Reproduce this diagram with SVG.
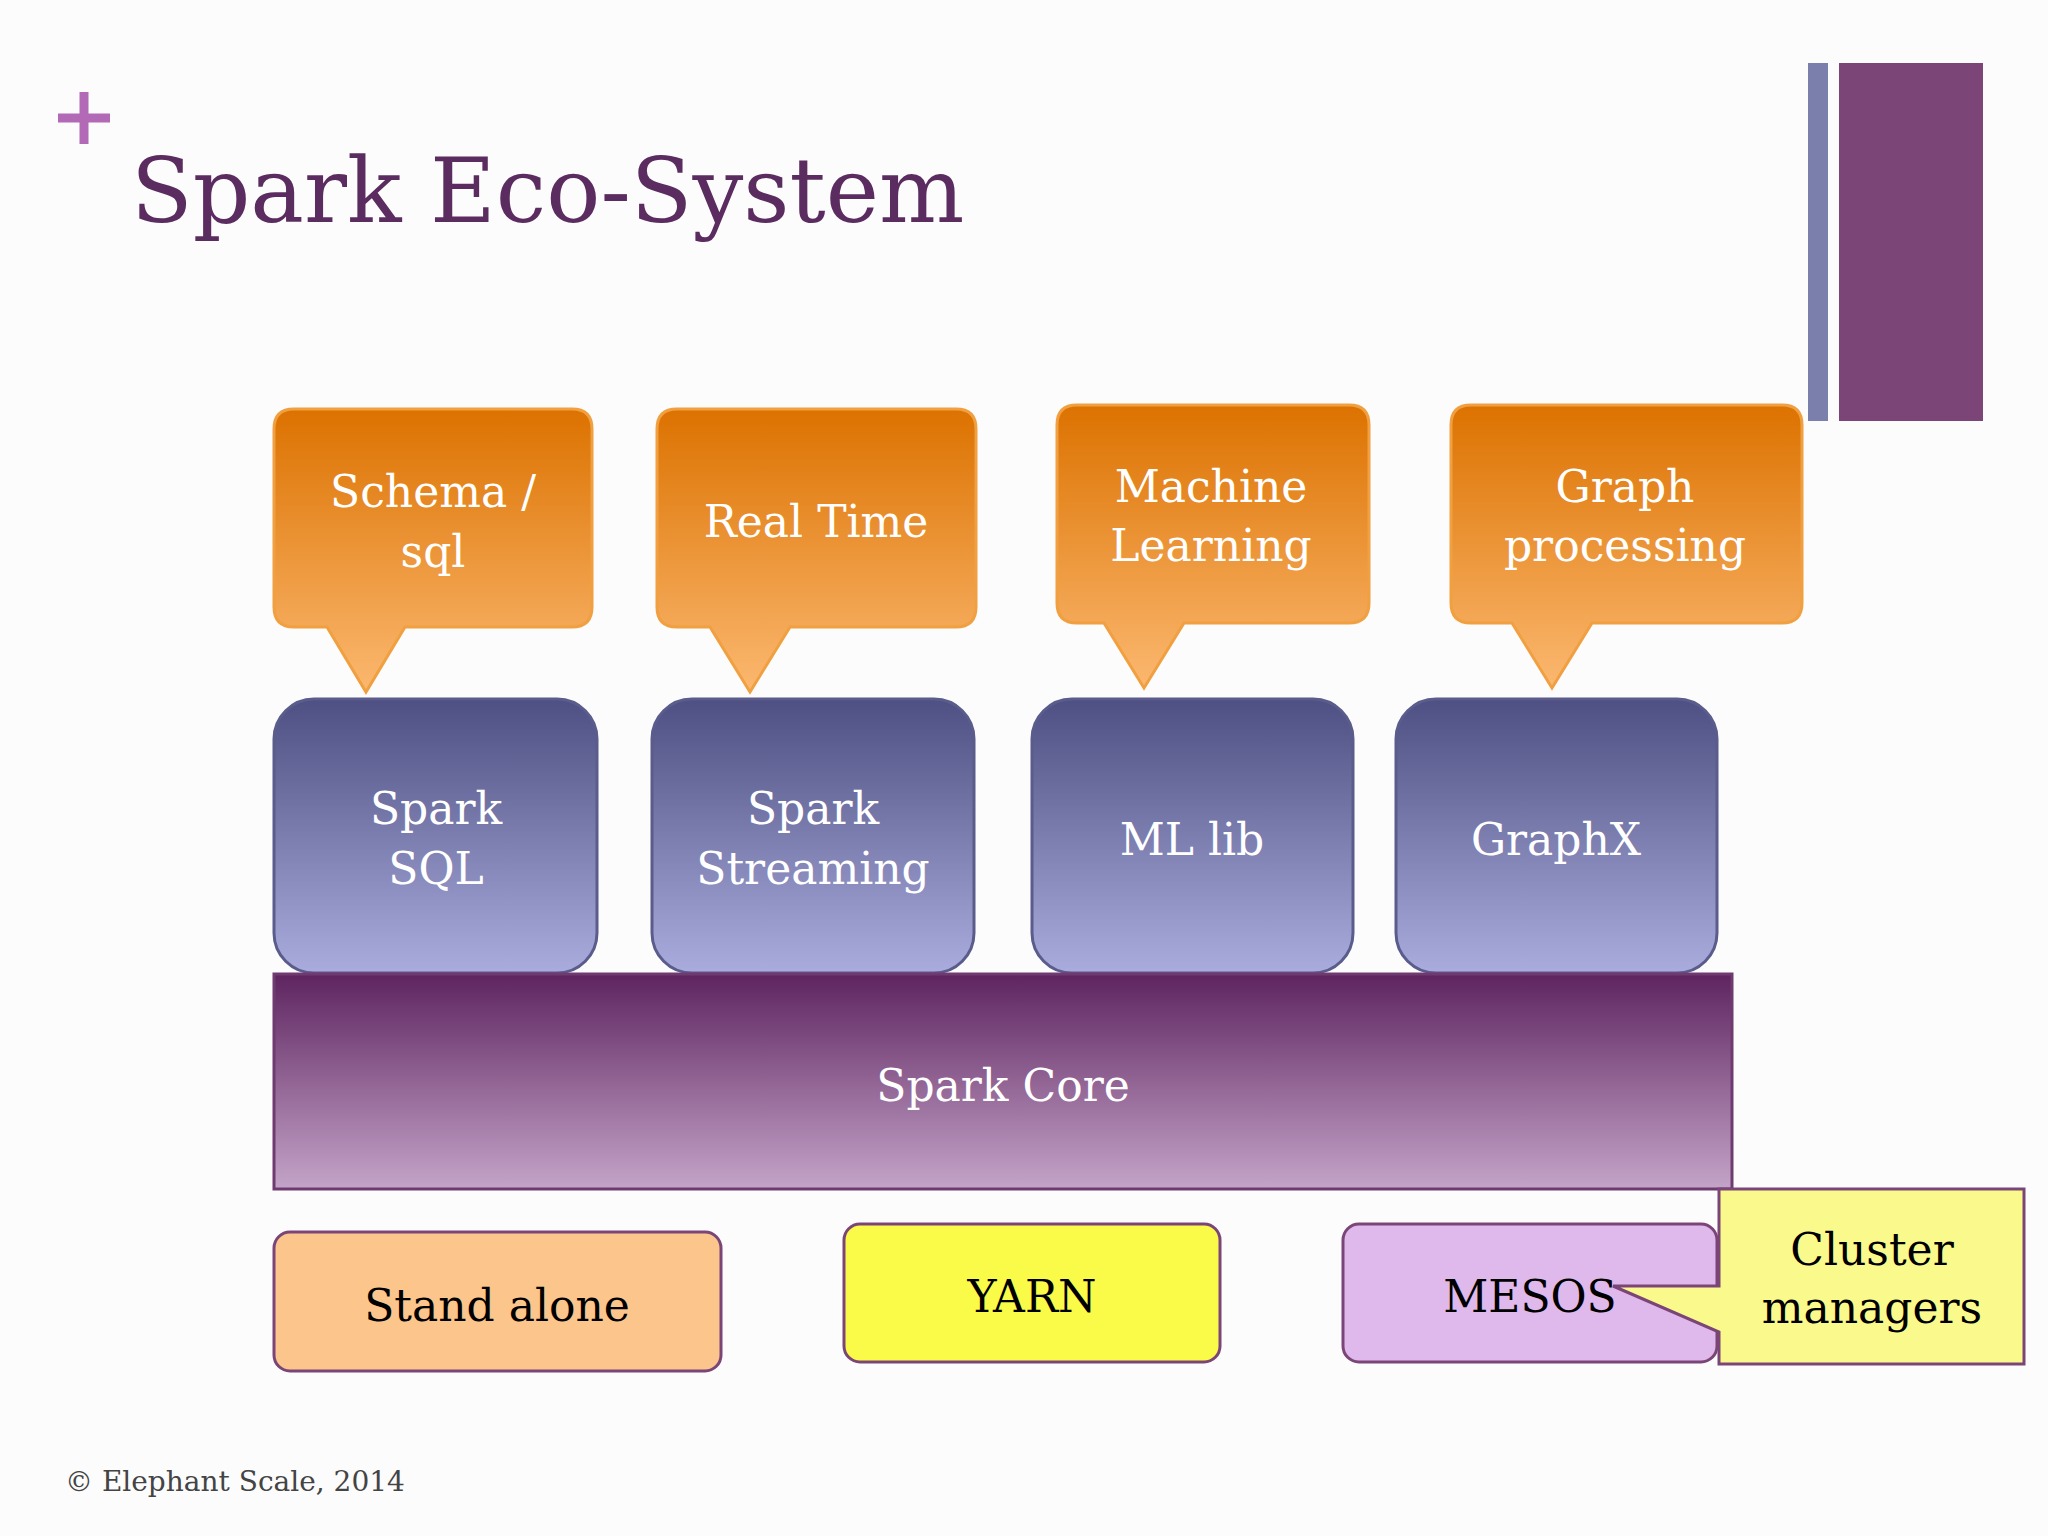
<svg xmlns="http://www.w3.org/2000/svg" width="2048" height="1536" viewBox="0 0 2048 1536">
<defs>
<linearGradient id="og" x1="0" y1="0" x2="0" y2="1"><stop offset="0" stop-color="#dc7200"/><stop offset="1" stop-color="#fbb870"/></linearGradient>
<linearGradient id="bg" x1="0" y1="0" x2="0" y2="1"><stop offset="0" stop-color="#4e4f82"/><stop offset="1" stop-color="#a9acdc"/></linearGradient>
<linearGradient id="pg" x1="0" y1="0" x2="0" y2="1"><stop offset="0" stop-color="#5e2460"/><stop offset="1" stop-color="#c4a4c8"/></linearGradient>
<style>
.t{font-family:"DejaVu Serif","Liberation Serif",serif;font-size:44px;text-anchor:middle}
.w{fill:#ffffff}
.k{fill:#000000}
.call{fill:url(#og);stroke:#f0a040;stroke-width:3}
.blue{fill:url(#bg);stroke:#5a5c8c;stroke-width:3}
</style>
</defs>
<rect width="2048" height="1536" fill="#fdfcfd"/>
<g id="header">
<path d="M84 92v52M58 118h52" stroke="#b36ab6" stroke-width="9"/>
<text x="131" y="222" font-family="DejaVu Serif,serif" font-size="90" fill="#5b2c5f">Spark Eco-System</text>
<rect x="1808" y="63" width="20" height="358" fill="#7b7fac"/>
<rect x="1839" y="63" width="144" height="358" fill="#7b4577"/>
</g>
<g id="c1"><path class="call" d="M294 409h278q20 0 20 20v178q0 20-20 20h-167l-39 65-39-65h-33q-20 0-20-20v-178q0-20 20-20z"/><text class="t w" x="433" y="507">Schema /</text><text class="t w" x="433" y="567">sql</text></g>
<g id="c2"><path class="call" d="M677 409h279q20 0 20 20v178q0 20-20 20h-166l-40 65-40-65h-33q-20 0-20-20v-178q0-20 20-20z"/><text class="t w" x="816" y="537">Real Time</text></g>
<g id="c3"><path class="call" d="M1077 405h272q20 0 20 20v178q0 20-20 20h-165l-40 65-40-65h-27q-20 0-20-20v-178q0-20 20-20z"/><text class="t w" x="1211" y="502">Machine</text><text class="t w" x="1211" y="561">Learning</text></g>
<g id="c4"><path class="call" d="M1471 405h311q20 0 20 20v178q0 20-20 20h-190l-40 65-40-65h-41q-20 0-20-20v-178q0-20 20-20z"/><text class="t w" x="1625" y="502">Graph</text><text class="t w" x="1625" y="561">processing</text></g>
<g id="sql"><rect class="blue" x="274" y="699" width="323" height="274" rx="40"/><text class="t w" x="436" y="824">Spark</text><text class="t w" x="436" y="884">SQL</text></g>
<g id="stream"><rect class="blue" x="652" y="699" width="322" height="274" rx="40"/><text class="t w" x="813" y="824">Spark</text><text class="t w" x="813" y="884">Streaming</text></g>
<g id="ml"><rect class="blue" x="1032" y="699" width="321" height="274" rx="40"/><text class="t w" x="1192" y="855">ML lib</text></g>
<g id="graphx"><rect class="blue" x="1396" y="699" width="321" height="274" rx="40"/><text class="t w" x="1556" y="855">GraphX</text></g>
<g id="core"><rect x="274" y="974" width="1458" height="215" fill="url(#pg)" stroke="#6e3a70" stroke-width="3"/><text class="t w" x="1003" y="1101">Spark Core</text></g>
<g id="standalone"><rect x="274" y="1232" width="447" height="139" rx="16" fill="#fbc58c" stroke="#7b4577" stroke-width="3"/><text class="t k" x="497" y="1321">Stand alone</text></g>
<g id="yarn"><rect x="844" y="1224" width="376" height="138" rx="16" fill="#fafa48" stroke="#7b4577" stroke-width="3"/><text class="t k" x="1032" y="1312">YARN</text></g>
<g id="mesos"><rect x="1343" y="1224" width="374" height="138" rx="16" fill="#dfb8ec" stroke="#7b4577" stroke-width="3"/><text class="t k" x="1530" y="1312">MESOS</text></g>
<g id="cluster"><path d="M1719 1189h305v175h-305v-32l-106-46 106 0z" fill="#fafa8c" stroke="#7b4577" stroke-width="3"/><text class="t k" x="1872" y="1265">Cluster</text><text class="t k" x="1872" y="1323">managers</text></g>
<text x="65" y="1491" font-family="DejaVu Serif,serif" font-size="28" fill="#444">© Elephant Scale, 2014</text>
</svg>
